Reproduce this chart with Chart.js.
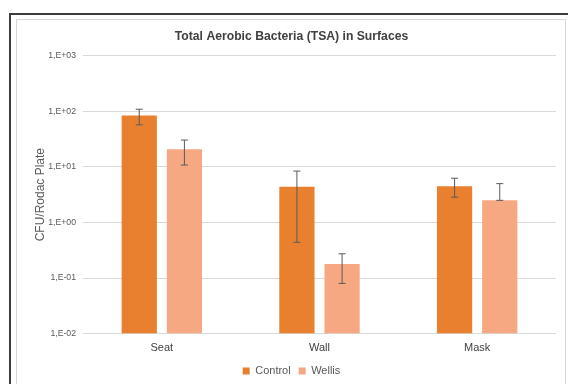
<!DOCTYPE html>
<html>
<head>
<meta charset="utf-8">
<script src="https://cdn.jsdelivr.net/npm/chart.js@4/dist/chart.umd.min.js"></script>
<style>
  html, body { margin: 0; padding: 0; background: #ffffff; }
  body { width: 568px; height: 384px; position: relative; overflow: hidden; }
  .frame-outer {
    position: absolute; left: 9px; top: 13px; width: 600px; height: 400px;
    border-left: 2px solid #3c3c3c; border-top: 2px solid #3c3c3c;
  }
  .frame-inner {
    position: absolute; left: 16px; top: 19px; width: 550px; height: 400px;
    border: 1px solid #d9d9d9; box-sizing: border-box;
  }
  #chart { position: absolute; left: 0; top: 0; }
</style>
</head>
<body>
<div class="frame-outer"></div>
<div class="frame-inner"></div>
<canvas id="chart" width="568" height="384"></canvas>
<script>
// Sampling surfaces
const categories = ['Seat', 'Wall', 'Mask'];

// Mean CFU per Rodac plate, with lower / upper error limits
const controlValues = [84, 4.4, 4.5];
const controlLow    = [57, 0.44, 2.85];
const controlHigh   = [109, 8.4, 6.25];

const wellisValues  = [20.7, 0.178, 2.5];
const wellisLow     = [10.8, 0.08, 2.5];
const wellisHigh    = [30.4, 0.273, 5.0];

// Log-axis tick positions (powers of ten)
const yTicks = [0.01, 0.1, 1, 10, 100, 1000];

const FONT = "'Liberation Sans', Arial, sans-serif";

function sciLabel(v) {
  const e = Math.round(Math.log10(v));
  const sign = e < 0 ? '-' : '+';
  const abs = String(Math.abs(e)).padStart(2, '0');
  return '1,E' + sign + abs;
}

// Vertical error bars with caps, drawn on top of each bar
const errorBars = {
  id: 'errorBars',
  afterDatasetsDraw(chart) {
    const ctx = chart.ctx;
    const y = chart.scales.y;
    chart.data.datasets.forEach((ds, i) => {
      const meta = chart.getDatasetMeta(i);
      meta.data.forEach((bar, j) => {
        const top = y.getPixelForValue(ds.errHigh[j]);
        const bot = y.getPixelForValue(ds.errLow[j]);
        const x = bar.x;
        const cap = 3.5;
        ctx.save();
        ctx.strokeStyle = '#5a5a5a';
        ctx.lineWidth = 1;
        ctx.beginPath();
        ctx.moveTo(x, top); ctx.lineTo(x, bot);
        ctx.moveTo(x - cap, top); ctx.lineTo(x + cap, top);
        ctx.moveTo(x - cap, bot); ctx.lineTo(x + cap, bot);
        ctx.stroke();
        ctx.restore();
      });
    });
  }
};

new Chart(document.getElementById('chart'), {
  type: 'bar',
  data: {
    labels: categories,
    datasets: [
      {
        label: 'Control',
        data: controlValues,
        errLow: controlLow,
        errHigh: controlHigh,
        backgroundColor: '#e8802f',
        categoryPercentage: 0.573,
        barPercentage: 0.78
      },
      {
        label: 'Wellis',
        data: wellisValues,
        errLow: wellisLow,
        errHigh: wellisHigh,
        backgroundColor: '#f6a882',
        categoryPercentage: 0.573,
        barPercentage: 0.78
      }
    ]
  },
  options: {
    responsive: false,
    animation: false,
    devicePixelRatio: 1,
    layout: { padding: { left: 16, right: 1, top: 0, bottom: -2.5 } },
    plugins: {
      title: {
        display: true,
        text: 'Total Aerobic Bacteria (TSA) in Surfaces',
        color: '#404040',
        font: { family: FONT, size: 12.2, weight: 'bold' },
        padding: { top: 29.5, bottom: 11.6 }
      },
      legend: {
        position: 'bottom',
        labels: {
          color: '#595959',
          font: { family: FONT, size: 11 },
          boxWidth: 7,
          boxHeight: 7,
          padding: 8
        }
      },
      tooltip: { enabled: false }
    },
    scales: {
      x: {
        grid: { display: false, drawTicks: false },
        border: { display: false },
        ticks: {
          color: '#404040',
          font: { family: FONT, size: 11 },
          padding: 7.7
        },
        afterFit(scale) { scale.height = 23.9; }
      },
      y: {
        type: 'logarithmic',
        min: 0.01,
        max: 1000,
        position: 'left',
        grid: { color: '#d9d9d9', drawTicks: false, lineWidth: 1 },
        border: { display: false },
        ticks: {
          color: '#595959',
          font: { family: FONT, size: 8.7 },
          padding: 7,
          callback: (v) => sciLabel(v)
        },
        afterBuildTicks(scale) {
          scale.ticks = yTicks.map(v => ({ value: v }));
        },
        title: {
          display: true,
          text: 'CFU/Rodac Plate',
          color: '#595959',
          font: { family: FONT, size: 12 },
          padding: { top: 17.5, bottom: 0 }
        },
        afterFit(scale) { scale.width = 67; }
      },
      yRight: {
        position: 'right',
        display: true,
        grid: { display: false, drawTicks: false },
        border: { display: false },
        ticks: { display: false },
        afterFit(scale) { scale.width = 11; }
      }
    }
  },
  plugins: [errorBars]
});
</script>
</body>
</html>
